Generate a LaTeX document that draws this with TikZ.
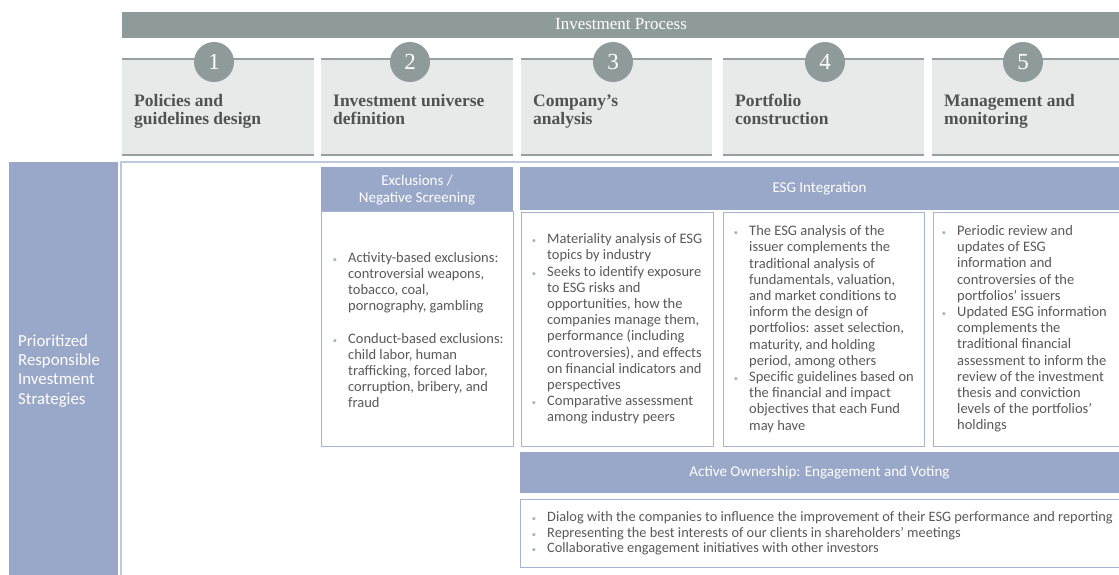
\documentclass[tikz,border=0pt]{standalone}
\usepackage{fontspec}
\setmainfont{Liberation Serif}
\newfontfamily\bodyfont{Carlito}
\usetikzlibrary{fit}
\definecolor{hdrgray}{RGB}{143,155,154}
\definecolor{stepfill}{RGB}{232,233,233}
\definecolor{steplinec}{RGB}{150,160,160}
\definecolor{strat}{RGB}{153,168,200}
\definecolor{outerb}{RGB}{190,200,224}
\definecolor{boxb}{RGB}{165,180,210}
\definecolor{txtgray}{RGB}{89,89,89}
\definecolor{bulc}{RGB}{160,176,205}
\definecolor{titlec}{RGB}{82,82,82}
\newcommand{\bl}{\llap{{\color{bulc}\fontsize{8.5}{8.5}\selectfont\textbullet}\hspace{11pt}}}
\begin{document}
\begin{tikzpicture}[x=1pt,y=-1pt,
  rectbox/.style={rectangle, inner sep=0pt, outer sep=0pt},
  hdrbar/.style={rectbox, fill=hdrgray},
  stepbox/.style={rectbox, fill=stepfill},
  stepline top/.style={draw=steplinec, line width=1.2pt},
  stepline bot/.style={draw=steplinec, line width=2.4pt},
  circ/.style={circle, fill=hdrgray, minimum size=40pt, inner sep=0pt, text=white, font=\fontsize{23}{23}\selectfont},
  steptitle/.style={anchor=base west, align=left, inner sep=0pt, text=titlec, font=\fontsize{17.5}{18.5}\selectfont\bfseries},
  bluebar/.style={rectbox, fill=strat},
  whitebox/.style={rectbox, fill=white, draw=boxb, line width=1pt},
  outerbox/.style={rectbox, draw=outerb, line width=1.2pt},
  bartext/.style={inner sep=0pt, align=center, text=white, font=\bodyfont\fontsize{15}{17}\selectfont},
  bodytext/.style={anchor=west, inner sep=0pt, align=left, text=txtgray, font=\bodyfont\fontsize{14.5}{16.2}\selectfont},
  widetext/.style={bodytext, font=\bodyfont\fontsize{14.35}{15.5}\selectfont}
]
\useasboundingbox (0,0) rectangle (1119,574);
\clip (0,0) rectangle (1119,574);

% header bar
\node[hdrbar, fit={(122,12)(1121,38)}] (hdr) {};
\node[text=white, inner sep=0pt, font=\fontsize{17}{17}\selectfont] (hdrtxt) at (621,24.5) {Investment Process};

% step boxes
\foreach \n/\l/\r/\c/\t in {
  1/122/314/214/{Policies and\\guidelines design},
  2/321/513/410/{Investment universe\\definition},
  3/521/712/613/{Company’s\\analysis},
  4/723/924/825/{Portfolio\\construction},
  5/932/1121/1023/{Management and\\monitoring}}{
  \node[stepbox, fit={(\l,59)(\r,155)}] (s\n) {};
  \draw[stepline top] (s\n.north west) -- (s\n.north east);
  \draw[stepline bot] (s\n.south west) -- (s\n.south east);
  \node[circ] (c\n) at (\c,62) {\n};
  \node[steptitle] (t\n) at (\l+12,124.5) {\t};
}

% left strategies column
\node[bluebar, fit={(9,162)(118,580)}] (strat) {};
\node[anchor=west, inner sep=0pt, align=left, text=white, font=\bodyfont\fontsize{16.8}{19.2}\selectfont] (strattxt) at (18,371) {Prioritized\\Responsible\\Investment\\Strategies};

% outer box
\node[outerbox, fit={(121,162)(1125,580)}] (outer) {};

% exclusions
\node[bluebar, fit={(321,167)(513,211)}] (exhdr) {};
\node[bartext] (exhdrtxt) at (417,190) {Exclusions /\\Negative Screening};
\node[whitebox, fit={(321,211)(513,446)}] (exbody) {};
\node[bodytext] (extxt) at (348,330) {\bl Activity-based exclusions:\\controversial weapons,\\tobacco, coal,\\pornography, gambling\\[16.2pt]\bl Conduct-based exclusions:\\child labor, human\\trafficking, forced labor,\\corruption, bribery, and\\fraud};

% ESG integration
\node[bluebar, fit={(520,167)(1121,210)}] (esghdr) {};
\node[bartext] (esghdrtxt) at (819.5,189) {ESG Integration};
\node[whitebox, fit={(521,212)(713,446)}] (col3) {};
\node[whitebox, fit={(723,212)(924,446)}] (col4) {};
\node[whitebox, fit={(933,212)(1125,446)}] (col5) {};
\node[bodytext] (t3) at (547,329) {\bl Materiality analysis of ESG\\topics by industry\\\bl Seeks to identify exposure\\to ESG risks and\\opportunities, how the\\companies manage them,\\performance (including\\controversies), and effects\\on financial indicators and\\perspectives\\\bl Comparative assessment\\among industry peers};
\node[bodytext] (t4) at (749,329) {\bl The ESG analysis of the\\issuer complements the\\traditional analysis of\\fundamentals, valuation,\\and market conditions to\\inform the design of\\portfolios: asset selection,\\maturity, and holding\\period, among others\\\bl Specific guidelines based on\\the financial and impact\\objectives that each Fund\\may have};
\node[bodytext] (t5) at (957,329) {\bl Periodic review and\\updates of ESG\\information and\\controversies of the\\portfolios’ issuers\\\bl Updated ESG information\\complements the\\traditional financial\\assessment to inform the\\review of the investment\\thesis and conviction\\levels of the portfolios’\\holdings};

% active ownership
\node[bluebar, fit={(520,452)(1121,493)}] (acthdr) {};
\node[bartext] (acthdrtxt) at (819.5,472.5) {Active Ownership: Engagement and Voting};
\node[whitebox, fit={(520,499)(1125,567)}] (actbody) {};
\node[widetext] (acttxt) at (547,533.5) {\bl Dialog with the companies to influence the improvement of their ESG performance and reporting\\\bl Representing the best interests of our clients in shareholders’ meetings\\\bl Collaborative engagement initiatives with other investors};
\end{tikzpicture}
\end{document}
